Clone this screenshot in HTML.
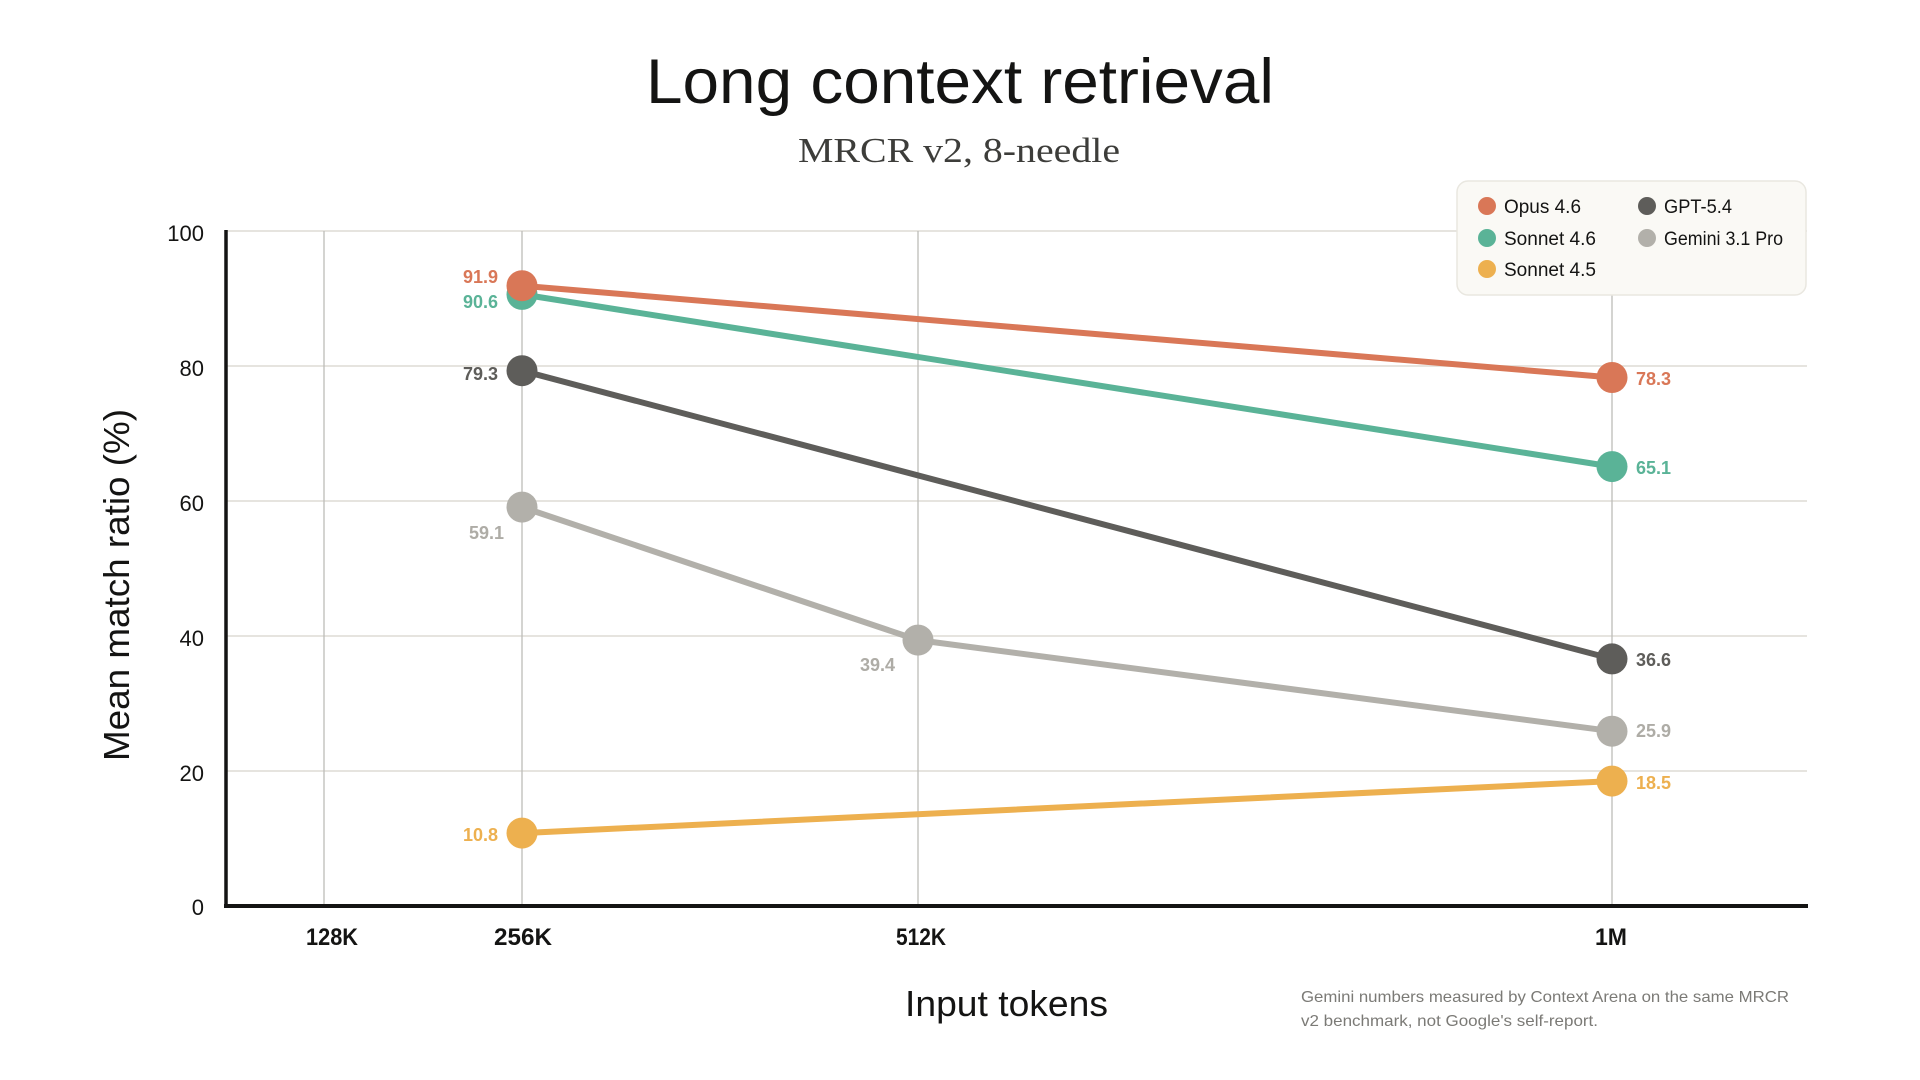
<!DOCTYPE html>
<html>
<head>
<meta charset="utf-8">
<style>
html,body{margin:0;padding:0;background:#ffffff;}
body{width:1920px;height:1080px;overflow:hidden;}
svg{display:block;}
text{font-family:"Liberation Sans",sans-serif;}
</style>
</head>
<body>
<svg width="1920" height="1080" viewBox="0 0 1920 1080" xmlns="http://www.w3.org/2000/svg">
<rect x="0" y="0" width="1920" height="1080" fill="#ffffff"/>

<!-- Title -->
<text x="646" y="103" font-size="63" fill="#141413" textLength="628" lengthAdjust="spacingAndGlyphs">Long context retrieval</text>
<text x="798" y="162" font-size="35" fill="#3d3d3a" style="font-family:'Liberation Serif',serif" textLength="322" lengthAdjust="spacingAndGlyphs">MRCR v2, 8-needle</text>

<!-- horizontal gridlines -->
<g stroke="#e6e4df" stroke-width="2">
<line x1="226" y1="231" x2="1807" y2="231"/>
<line x1="226" y1="366" x2="1807" y2="366"/>
<line x1="226" y1="501" x2="1807" y2="501"/>
<line x1="226" y1="636" x2="1807" y2="636"/>
<line x1="226" y1="771" x2="1807" y2="771"/>
</g>
<!-- vertical gridlines -->
<g stroke="#bdbcb8" stroke-width="1.3">
<line x1="324" y1="231" x2="324" y2="906"/>
<line x1="522" y1="231" x2="522" y2="906"/>
<line x1="918" y1="231" x2="918" y2="906"/>
<line x1="1612" y1="231" x2="1612" y2="906"/>
</g>

<!-- axes -->
<line x1="226" y1="230" x2="226" y2="908" stroke="#141413" stroke-width="3.5"/>
<line x1="224" y1="906" x2="1808" y2="906" stroke="#141413" stroke-width="4"/>

<!-- y tick labels -->
<g font-size="22" fill="#141413" text-anchor="end">
<text x="204" y="241">100</text>
<text x="204" y="376">80</text>
<text x="204" y="511">60</text>
<text x="204" y="646">40</text>
<text x="204" y="781">20</text>
<text x="204" y="915">0</text>
</g>

<!-- x tick labels -->
<g font-size="24" fill="#141413" text-anchor="middle" font-weight="bold">
<text x="332" y="945" textLength="52" lengthAdjust="spacingAndGlyphs">128K</text>
<text x="523" y="945" textLength="58" lengthAdjust="spacingAndGlyphs">256K</text>
<text x="921" y="945" textLength="50" lengthAdjust="spacingAndGlyphs">512K</text>
<text x="1611" y="945" textLength="32" lengthAdjust="spacingAndGlyphs">1M</text>
</g>

<!-- axis titles -->
<text x="905" y="1016" font-size="36" fill="#141413" textLength="203" lengthAdjust="spacingAndGlyphs">Input tokens</text>
<text transform="translate(129,585) rotate(-90)" x="0" y="0" font-size="36" fill="#141413" text-anchor="middle" textLength="352" lengthAdjust="spacingAndGlyphs">Mean match ratio (%)</text>

<!-- footnote -->
<g font-size="16" fill="#7b7a76">
<text x="1301" y="1002" textLength="488" lengthAdjust="spacingAndGlyphs">Gemini numbers measured by Context Arena on the same MRCR</text>
<text x="1301" y="1026" textLength="297" lengthAdjust="spacingAndGlyphs">v2 benchmark, not Google's self-report.</text>
</g>

<!-- series lines -->
<g fill="none" stroke-width="6" stroke-linecap="round" stroke-linejoin="round">
<polyline points="522,833.1 1612,781.1" stroke="#edb04f"/>
<polyline points="522,507.1 918,640.1 1612,731.2" stroke="#b2b0aa"/>
<polyline points="522,370.7 1612,658.9" stroke="#5e5d5a"/>
<polyline points="522,294.4 1612,466.6" stroke="#5ab397"/>
<polyline points="522,285.7 1612,377.5" stroke="#d97757"/>
</g>

<!-- markers -->
<g>
<circle cx="522" cy="833.1" r="15.5" fill="#edb04f"/>
<circle cx="1612" cy="781.1" r="15.5" fill="#edb04f"/>
<circle cx="522" cy="507.1" r="15.5" fill="#b2b0aa"/>
<circle cx="918" cy="640.1" r="15.5" fill="#b2b0aa"/>
<circle cx="1612" cy="731.2" r="15.5" fill="#b2b0aa"/>
<circle cx="522" cy="370.7" r="15.5" fill="#5e5d5a"/>
<circle cx="1612" cy="658.9" r="15.5" fill="#5e5d5a"/>
<circle cx="522" cy="294.4" r="15.5" fill="#5ab397"/>
<circle cx="1612" cy="466.6" r="15.5" fill="#5ab397"/>
<circle cx="522" cy="285.7" r="15.5" fill="#d97757"/>
<circle cx="1612" cy="377.5" r="15.5" fill="#d97757"/>
</g>

<!-- data labels -->
<g font-size="18" font-weight="bold">
<text x="498" y="283" text-anchor="end" fill="#d97757">91.9</text>
<text x="498" y="308" text-anchor="end" fill="#5ab397">90.6</text>
<text x="498" y="380" text-anchor="end" fill="#5e5d5a">79.3</text>
<text x="504" y="539" text-anchor="end" fill="#aeaca6">59.1</text>
<text x="498" y="841" text-anchor="end" fill="#edb04f">10.8</text>
<text x="895" y="671" text-anchor="end" fill="#aeaca6">39.4</text>
<text x="1636" y="385" fill="#d97757">78.3</text>
<text x="1636" y="474" fill="#5ab397">65.1</text>
<text x="1636" y="666" fill="#5e5d5a">36.6</text>
<text x="1636" y="737" fill="#aeaca6">25.9</text>
<text x="1636" y="789" fill="#edb04f">18.5</text>
</g>

<!-- legend -->
<rect x="1457" y="181" width="349" height="114" rx="11" ry="11" fill="#faf9f5" stroke="#e9e7e0" stroke-width="1.5"/>
<circle cx="1487" cy="206" r="9" fill="#d97757"/>
<circle cx="1487" cy="238" r="9" fill="#5ab397"/>
<circle cx="1487" cy="269" r="9" fill="#edb04f"/>
<circle cx="1647" cy="206" r="9" fill="#5e5d5a"/>
<circle cx="1647" cy="238" r="9" fill="#b2b0aa"/>
<g font-size="19" fill="#141413">
<text x="1504" y="213" textLength="77" lengthAdjust="spacingAndGlyphs">Opus 4.6</text>
<text x="1504" y="245" textLength="92" lengthAdjust="spacingAndGlyphs">Sonnet 4.6</text>
<text x="1504" y="276" textLength="92" lengthAdjust="spacingAndGlyphs">Sonnet 4.5</text>
<text x="1664" y="213" textLength="68" lengthAdjust="spacingAndGlyphs">GPT-5.4</text>
<text x="1664" y="245" textLength="119" lengthAdjust="spacingAndGlyphs">Gemini 3.1 Pro</text>
</g>
</svg>
</body>
</html>
